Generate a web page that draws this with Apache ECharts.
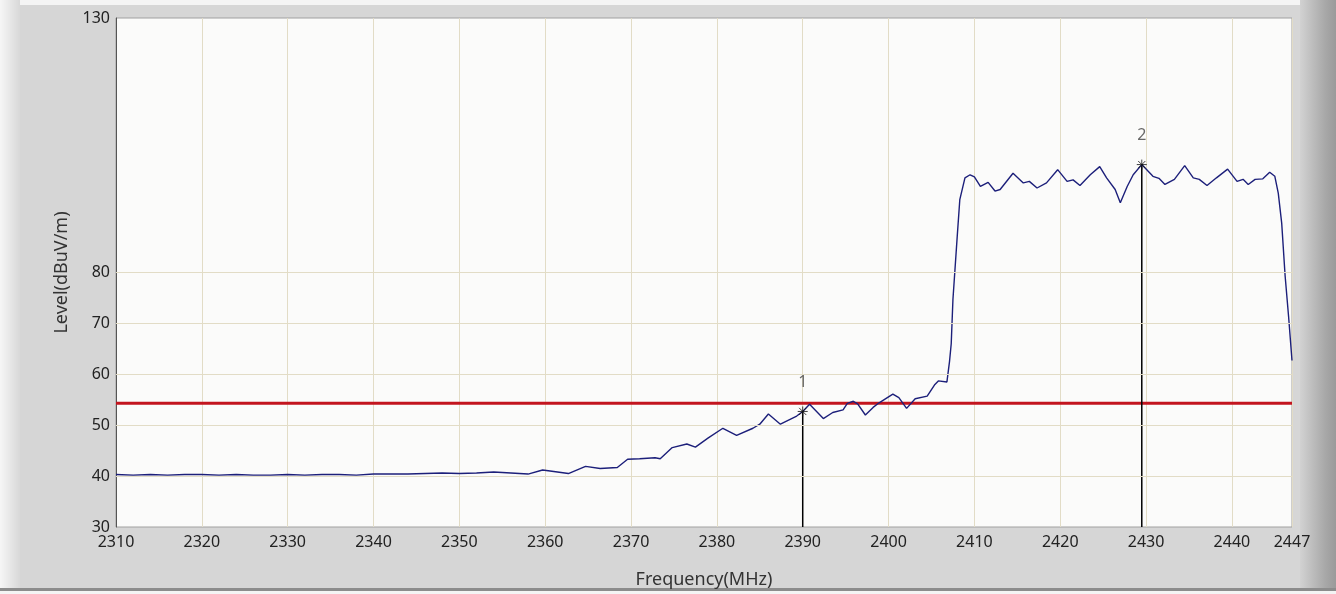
<!DOCTYPE html>
<html>
<head>
<meta charset="utf-8">
<script src="https://cdn.jsdelivr.net/npm/echarts@6/dist/echarts.min.js"></script>
<style>
html,body{margin:0;padding:0;background:#d6d6d6;}
#c{width:1336px;height:594px;}
</style>
</head>
<body>
<div id="c"></div>
<script>
// ---- data ----
const freqs = [2310,2312,2314,2316,2318,2320,2322,2324,2326,2328,2330,2332,2334,2336,2338,2340,2342,2344,2346,2348,2350,2352,2354,2356,2358,2359.7,2361,2362.7,2364.7,2366.4,2368.4,2369.6,2371,2372.8,2373.4,2374.8,2376.5,2377.5,2379,2380.7,2382.3,2384.2,2385,2386.0,2387.4,2389.3,2390.0,2390.8,2392.4,2393.5,2394.7,2395.2,2395.9,2396.4,2397.3,2398.2,2398.9,2400.5,2401.2,2402.1,2403.1,2404.5,2405.4,2405.8,2406.8,2407.1,2407.3,2407.5,2408.0,2408.3,2408.9,2409.5,2410.0,2410.7,2411.6,2412.4,2413.0,2414.5,2415.7,2416.4,2417.3,2418.4,2419.7,2420.8,2421.5,2422.3,2423.5,2424.6,2425.4,2426.4,2427.0,2427.8,2428.5,2429.5,2430.8,2431.5,2432.2,2433.3,2434.5,2435.5,2436.2,2437.1,2438.2,2439.5,2440.6,2441.3,2441.9,2442.7,2443.6,2444.4,2445.0,2445.4,2445.8,2446.2,2446.6,2447.0];
const levels = [40.3,40.2,40.3,40.2,40.3,40.3,40.2,40.3,40.2,40.2,40.3,40.2,40.3,40.3,40.2,40.4,40.4,40.4,40.5,40.6,40.5,40.6,40.8,40.6,40.4,41.2,40.9,40.5,41.9,41.5,41.7,43.3,43.4,43.6,43.4,45.6,46.3,45.7,47.5,49.4,48.0,49.4,50.2,52.2,50.2,51.8,52.7,54.1,51.3,52.5,53.0,54.3,54.7,54.2,52.0,53.5,54.4,56.1,55.4,53.3,55.2,55.7,58.0,58.7,58.5,62.5,66.0,74.7,87.1,94.3,98.6,99.2,98.8,96.9,97.7,96.0,96.3,99.5,97.6,97.9,96.6,97.6,100.2,97.9,98.2,97.1,99.2,100.8,98.6,96.3,93.7,96.9,99.2,101.2,98.9,98.5,97.3,98.3,101.0,98.6,98.3,97.1,98.6,100.3,97.9,98.3,97.3,98.3,98.4,99.7,98.9,95.6,89.7,79.3,71.4,62.7];
const limitLevel = 54.3;
const markerNames = ['1','2'];
const markerFreqs = [2390.0, 2429.5];
const markerLevels = [52.7, 101.2];
const yTickLabels = [30,40,50,60,70,80,130];
const yGridLevels = [40,50,60,70,80];
const xMin = 2310, xMax = 2447, yMin = 30, yMax = 130;

// ---- chart ----
const chart = echarts.init(document.getElementById('c'));
const font = 'Noto Sans, Open Sans, sans-serif';
const trace = freqs.map((f,i)=>[f, levels[i]]);
const markerLines = markerFreqs.map((f,i)=>({
  type:'line', silent:true, symbol:'none', z:3,
  lineStyle:{color:'#000', width:1.5},
  data:[[f, yMin],[f, markerLevels[i]]]
}));
const asterisk = 'path://M0,-5L0,5M-5,0L5,0M-3.6,-3.6L3.6,3.6M-3.6,3.6L3.6,-3.6';

chart.setOption({
  backgroundColor:'#d6d6d6',
  animation:false,
  graphic:[
    {type:'rect', left:0, top:0, shape:{width:1336,height:5}, style:{fill:'#f4f4f4'}, z:-10},
    {type:'rect', left:0, top:0, shape:{width:20,height:594}, style:{fill:new echarts.graphic.LinearGradient(0,0,1,0,[{offset:0,color:'#f6f6f6'},{offset:1,color:'#d8d8d8'}])}, z:-10},
    {type:'rect', left:1300, top:0, shape:{width:36,height:594}, style:{fill:new echarts.graphic.LinearGradient(0,0,1,0,[{offset:0,color:'#d2d2d2'},{offset:0.7,color:'#a8a8a8'},{offset:1,color:'#9a9a9a'}])}, z:-10},
    {type:'rect', left:0, top:588, shape:{width:1336,height:3}, style:{fill:'#8c8c8c'}, z:-10},
    {type:'rect', left:0, top:591, shape:{width:1336,height:3}, style:{fill:'#f4f4f4'}, z:-10}
  ],
  grid:{left:116, right:44, top:18, bottom:66, show:true, backgroundColor:'#fbfbfa', borderColor:'#a0a0a0', borderWidth:1},
  xAxis:{
    type:'value', min:xMin, max:xMax, interval:10,
    name:'Frequency(MHz)', nameLocation:'middle', nameGap:44,
    nameTextStyle:{color:'#333', fontSize:18, fontFamily:font},
    axisLine:{show:false}, axisTick:{show:false},
    axisLabel:{color:'#222', fontSize:16, fontFamily:font, margin:7, showMinLabel:true, showMaxLabel:true,
      formatter:v=>String(v)},
    splitLine:{show:true, lineStyle:{color:'#e2dcc6', width:1}}
  },
  yAxis:{
    type:'value', min:yMin, max:yMax, interval:10,
    name:'Level(dBuV/m)', nameLocation:'middle', nameGap:45,
    nameTextStyle:{color:'#333', fontSize:18, fontFamily:font},
    axisLine:{show:true, lineStyle:{color:'#555', width:1}}, axisTick:{show:false},
    axisLabel:{color:'#222', fontSize:16, fontFamily:font, margin:6,
      formatter:v=> yTickLabels.indexOf(v)>=0 ? String(v) : ''},
    splitLine:{show:false}
  },
  series:[
    {type:'line', silent:true, symbol:'none', z:1, data:[],
      markLine:{silent:true, symbol:'none', label:{show:false},
        lineStyle:{color:'#e2dcc6', width:1, type:'solid'},
        data: yGridLevels.map(v=>({yAxis:v}))}},
    {type:'line', name:'trace', symbol:'none', z:4, data:trace,
      lineStyle:{color:'#1c1f7a', width:1.4}},
    {type:'line', silent:true, symbol:'none', z:2, data:[[xMin,limitLevel],[xMax,limitLevel]],
      lineStyle:{color:'#c3141e', width:3}},
    ...markerLines,
    {type:'scatter', z:5, symbol:asterisk, symbolSize:10,
      itemStyle:{color:'none', borderColor:'#111', borderWidth:1},
      label:{show:true, position:'top', distance:14, color:'#444', fontSize:16, fontFamily:font,
        formatter:p=>markerNames[p.dataIndex]},
      data: markerFreqs.map((f,i)=>[f, markerLevels[i]])}
  ]
});
</script>
</body>
</html>
